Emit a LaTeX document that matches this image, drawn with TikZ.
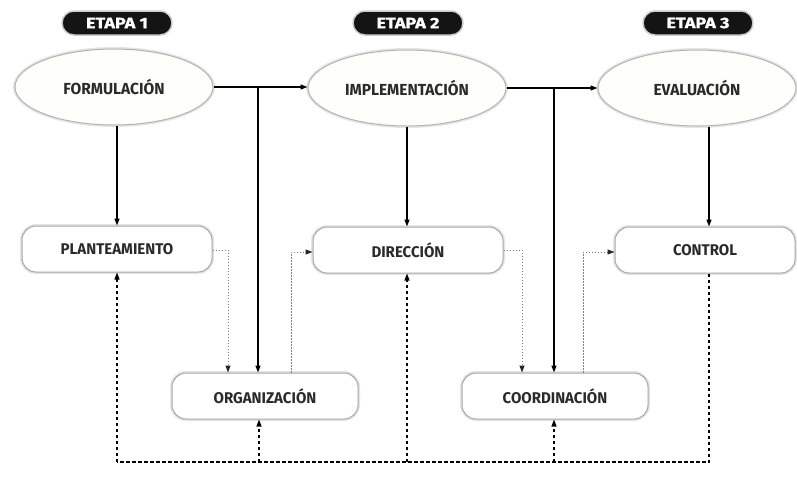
\documentclass[tikz,border=0pt]{standalone}
\usepackage{fontspec}
\setmainfont{Fira Sans}
\newfontfamily\boxfont[FakeStretch=0.97]{Fira Sans}
\newfontfamily\badgefont[FakeStretch=1.2,FakeBold=1.2]{Fira Sans}
\usetikzlibrary{shapes.geometric,arrows.meta}
\definecolor{labelgray}{HTML}{2A2A2A}
\definecolor{shapefill}{HTML}{FEFEFB}
\tikzset{
  soft/.style={preaction={draw=black!10,line width=4pt}},
  stagebox/.style={ellipse,draw=black!30,line width=1pt,fill=shapefill,soft,
    minimum width=198pt,minimum height=76pt,inner sep=0pt,
    font=\boxfont\bfseries\fontsize{16}{16}\selectfont,text=labelgray},
  taskbox/.style={rectangle,rounded corners=14pt,draw=black!35,line width=1pt,fill=white,soft,
    minimum height=46pt,inner sep=0pt,
    font=\boxfont\bfseries\fontsize{15.5}{15.5}\selectfont,text=labelgray},
  badge/.style={rectangle,rounded corners=12pt,fill=black!92,draw=black!20,line width=1.5pt,
    minimum width=110pt,minimum height=24pt,inner sep=0pt,
    text=white,font=\badgefont\bfseries\fontsize{15}{15}\selectfont},
  flow/.style={draw=black,line width=1.4pt,-{Triangle[length=7pt,width=5pt]}},
  hint/.style={draw=black!50,line width=1pt,dash pattern=on 1.5pt off 1.5pt,
    -{Triangle[length=7pt,width=5pt,color=black!85,fill=black!85]}},
  feedback/.style={draw=black,line width=1.2pt,dash pattern=on 3.5pt off 2.5pt,
    -{Triangle[length=7pt,width=5pt]}},
  feedbackline/.style={draw=black,line width=1.2pt,dash pattern=on 3.5pt off 2.5pt},
}
\begin{document}
\begin{tikzpicture}[x=1pt,y=-1pt]
\path[use as bounding box,fill=white] (0,0) rectangle (797,488);

% stage badges
\node[badge] (s1) at (117,23) {ETAPA 1};
\node[badge] (s2) at (408,23) {ETAPA 2};
\node[badge] (s3) at (698,23) {ETAPA 3};

% stages
\node[stagebox] (f) at (114,87) {FORMULACIÓN};
\node[stagebox] (i) at (407,88) {IMPLEMENTACIÓN};
\node[stagebox] (e) at (697,88) {EVALUACIÓN};

% tasks
\node[taskbox,minimum width=190pt] (pl) at (117,249) {PLANTEAMIENTO};
\node[taskbox,minimum width=190pt] (di) at (408,250) {DIRECCIÓN};
\node[taskbox,minimum width=180pt] (co) at (705,250) {CONTROL};
\node[taskbox,minimum width=186pt] (or) at (265,396) {ORGANIZACIÓN};
\node[taskbox,minimum width=186pt] (cd) at (555,396) {COORDINACIÓN};

% branch points and turning points
\coordinate (b1) at (258,88);
\coordinate (b2) at (554,88);
\coordinate (dpl) at (117,0);
\coordinate (dor) at (259,0);
\coordinate (ddi) at (407,0);
\coordinate (dcd) at (554,0);
\coordinate (dco) at (709,0);
\coordinate (loopy) at (0,462);
\coordinate (h1) at (228,250);
\coordinate (h2) at (291,252);
\coordinate (h3) at (522,250);
\coordinate (h4) at (583,252);

% main flow
\draw[flow] (f.east) -- (f.east -| i.west);
\draw[flow] (b1) -- (b1 |- or.north);
\draw[flow] (i.east) -- (i.east -| e.west);
\draw[flow] (b2) -- (b2 |- cd.north);
\draw[flow] (dpl |- f.south) -- (dpl |- pl.north);
\draw[flow] (ddi |- i.south) -- (ddi |- di.north);
\draw[flow] (dco |- e.south) -- (dco |- co.north);

% dotted links between tasks
\draw[hint] (pl.east |- h1) -- (h1) -- (h1 |- or.north);
\draw[hint] (h2 |- or.north) -- (h2) -- (h2 -| di.west);
\draw[hint] (di.east |- h3) -- (h3) -- (h3 |- cd.north);
\draw[hint] (h4 |- cd.north) -- (h4) -- (h4 -| co.west);

% feedback loop
\draw[feedbackline] (dco |- co.south) -- (dco |- loopy) -- (dpl |- loopy);
\draw[feedback] (dpl |- loopy) -- (dpl |- pl.south);
\draw[feedback] (dor |- loopy) -- (dor |- or.south);
\draw[feedback] (ddi |- loopy) -- (ddi |- di.south);
\draw[feedback] (dcd |- loopy) -- (dcd |- cd.south);
\end{tikzpicture}
\end{document}
